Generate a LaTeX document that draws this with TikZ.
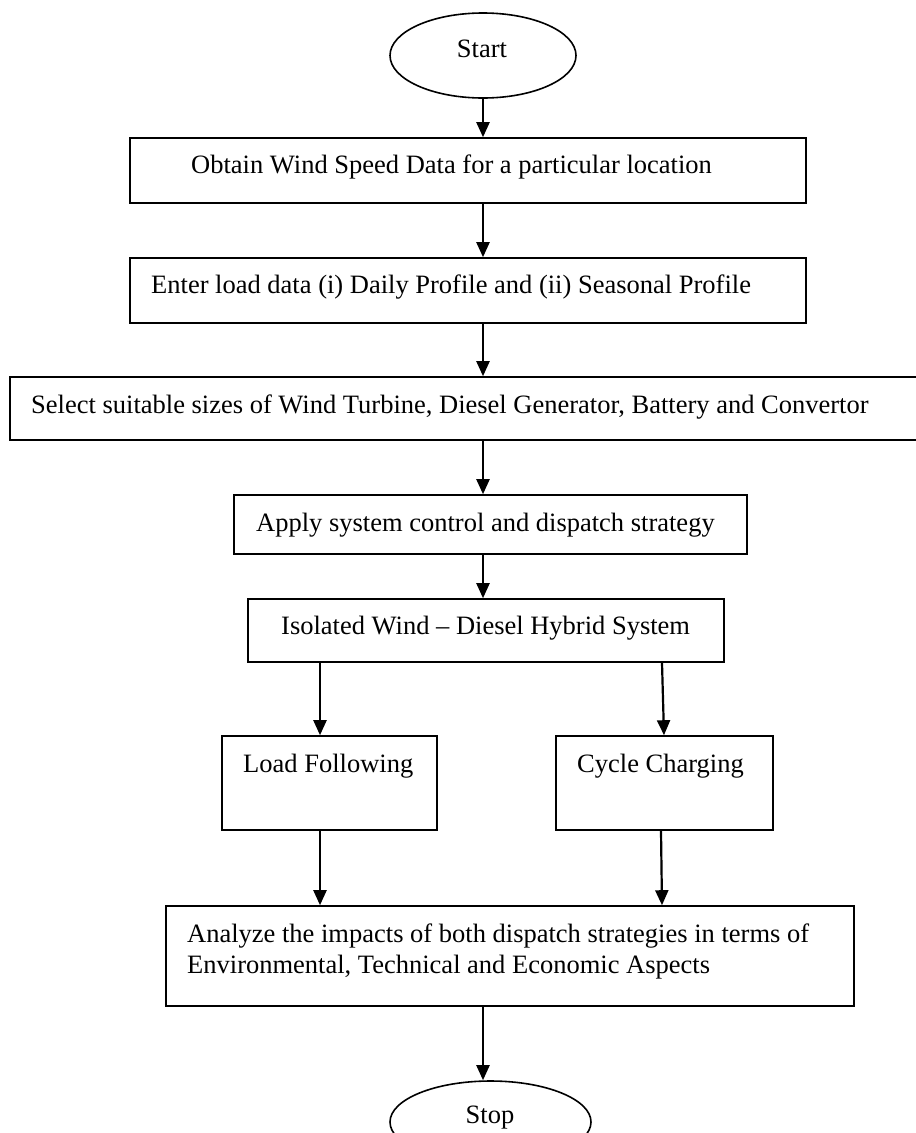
\documentclass[tikz,border=0pt]{standalone}
\usepackage{fontspec}
\setmainfont{Liberation Serif}
\usetikzlibrary{arrows.meta,shapes.geometric}
\begin{document}
\begin{tikzpicture}[x=1pt,y=-1pt,
  box/.style={draw,line width=1.6pt,inner sep=0pt},
  term/.style={ellipse,draw,line width=1.6pt,inner sep=0pt},
  txt/.style={inner sep=0pt,font=\fontsize{26.5}{31}\selectfont},
  arr/.style={-{Triangle[length=15pt,width=13pt]},line width=2.2pt}]
\useasboundingbox (0,0) rectangle (916,1133);
\clip (0,0) rectangle (916,1133);
\fill[white] (0,0) rectangle (916,1133);
% terminals
\node[term,minimum width=186pt,minimum height=85pt] (start) at (483,55.5) {};
\node[txt,anchor=base] (tstart) at (482,57) {Start};
\node[term,minimum width=201pt,minimum height=82pt] (stop) at (490.5,1122) {};
\node[txt,anchor=base] (tstop) at (490,1123) {Stop};
% boxes
\node[box,minimum width=676pt,minimum height=65pt] (b1) at (468,170.5) {};
\node[txt,anchor=base west] (t1) at (191,173) {Obtain Wind Speed Data for a particular location};
\node[box,minimum width=676pt,minimum height=65pt] (b2) at (468,290.5) {};
\node[txt,anchor=base west] (t2) at (151,293) {Enter load data (i) Daily Profile and (ii) Seasonal Profile};
\node[box,minimum width=930pt,minimum height=63pt] (b3) at (475,408.5) {};
\node[txt,anchor=base west] (t3) at (31,413) {Select suitable sizes of Wind Turbine, Diesel Generator, Battery and Convertor};
\node[box,minimum width=513pt,minimum height=59pt] (b4) at (490.5,524.5) {};
\node[txt,anchor=base west] (t4) at (256,531) {Apply system control and dispatch strategy};
\node[box,minimum width=476pt,minimum height=63pt] (b5) at (486,630.5) {};
\node[txt,anchor=base west] (t5) at (281,634) {Isolated Wind -- Diesel Hybrid System};
\node[box,minimum width=215pt,minimum height=94pt] (lf) at (329.5,783) {};
\node[txt,anchor=base west] (tlf) at (243,772) {Load Following};
\node[box,minimum width=217pt,minimum height=94pt] (cc) at (664.5,783) {};
\node[txt,anchor=base west] (tcc) at (577,772) {Cycle Charging};
\node[box,minimum width=688pt,minimum height=100pt] (b7) at (510,956) {};
\node[txt,anchor=base west] (t7a) at (187,942) {Analyze the impacts of both dispatch strategies in terms of};
\node[txt,anchor=base west] (t7b) at (187,973) {Environmental, Technical and Economic Aspects};
% connectors
\draw[arr] (start.south) -- (start.south |- b1.north);
\draw[arr] (b1.south -| start.south) -- (b2.north -| start.south);
\draw[arr] (b2.south -| start.south) -- (b3.north -| start.south);
\draw[arr] (b3.south -| start.south) -- (b4.north -| start.south);
\draw[arr] (b4.south -| start.south) -- (b5.north -| start.south);
\draw[arr] ([xshift=-9.5pt]lf.north |- b5.south) -- ([xshift=-9.5pt]lf.north);
\draw[arr] ([xshift=-2.5pt]cc.north |- b5.south) -- ([xshift=-0.5pt]cc.north);
\draw[arr] ([xshift=-9.5pt]lf.south) -- ([xshift=-9.5pt]lf.south |- b7.north);
\draw[arr] ([xshift=-3.5pt]cc.south) -- ([xshift=-2.5pt]cc.south |- b7.north);
\draw[arr] (b7.south -| start.south) -- (stop.north -| start.south);
\end{tikzpicture}
\end{document}
